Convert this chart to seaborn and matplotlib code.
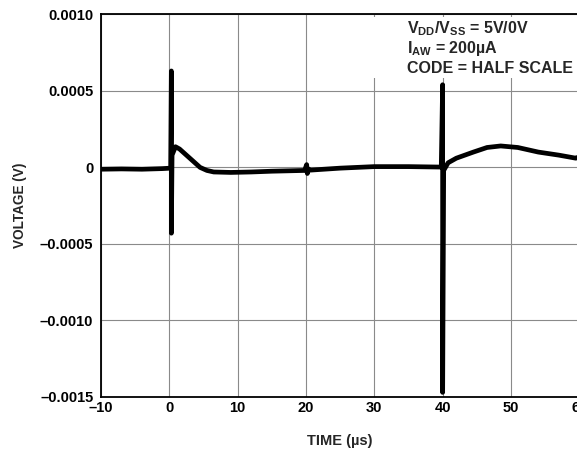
"""
Output voltage transient of the wiper (V vs. time in us), datasheet style.
Writes out.png
"""
import matplotlib
matplotlib.use("Agg")
import matplotlib.pyplot as plt
import pandas as pd
import seaborn as sns
from matplotlib.patches import Rectangle

# ---- data --------------------------------------------------------------
time_us = [
    -10.0, -7.0, -4.0, -1.0, 0.2,
    0.3, 0.3, 0.4, 0.9, 1.5, 2.5, 3.5, 4.5, 5.5, 6.5,
    9.0, 12.0, 15.0, 19.8, 20.1, 20.2, 20.35, 20.6,
    25.0, 30.0, 35.0, 39.8,
    40.0, 40.0, 40.15, 40.8, 42.0, 44.5, 46.5, 48.5,
    51.0, 54.0, 57.0, 59.5, 60.0,
]
voltage_v = [
    -0.000012, -0.000010, -0.000012, -0.000008, -0.000005,
    0.00063, -0.00043, 0.00008, 0.000135, 0.00012, 0.00008, 0.00004, 0.000000, -0.00002, -0.00003,
    -0.000033, -0.00003, -0.000025, -0.00002, 0.000018, -0.00004, -0.00001, -0.000018,
    -0.000005, 0.000005, 0.000005, 0.000002,
    0.00054, -0.00147, -0.00002, 0.00003, 0.00006, 0.0001, 0.00013, 0.00014,
    0.00013, 0.0001, 0.00008, 0.00006, 0.00007,
]

x_ticks = [-10, 0, 10, 20, 30, 40, 50, 60]
x_tick_labels = ["\u201310", "0", "10", "20", "30", "40", "50", "60"]
y_ticks = [-0.0015, -0.0010, -0.0005, 0.0, 0.0005, 0.0010]
y_tick_labels = ["\u20130.0015", "\u20130.0010", "\u20130.0005", "0", "0.0005", "0.0010"]

note_lines = [
    r"$V_{DD}/V_{SS}$ = 5V/0V",
    r"$I_{AW}$ = 200" + "\u00b5A",
    "CODE = HALF SCALE",
]

sns.set_theme(style="whitegrid")
plt.rcParams["font.family"] = ["Liberation Sans", "DejaVu Sans"]
plt.rcParams["font.weight"] = "bold"
plt.rcParams["mathtext.fontset"] = "custom"
plt.rcParams["mathtext.rm"] = "Liberation Sans:bold"
plt.rcParams["mathtext.it"] = "Liberation Sans:bold"
plt.rcParams["mathtext.bf"] = "Liberation Sans:bold"
plt.rcParams["mathtext.default"] = "rm"

df = pd.DataFrame({"t": time_us, "v": voltage_v})

fig = plt.figure(figsize=(5.77, 4.5), dpi=100)
ax = fig.add_axes([0.175, 0.1178, 0.829, 0.8504])

sns.lineplot(data=df, x="t", y="v", sort=False, estimator=None,
             color="black", lw=3.4, ax=ax, zorder=3)

ax.set_xlim(-10, 60)
ax.set_ylim(-0.0015, 0.0010)
ax.set_xticks(x_ticks)
ax.set_xticklabels(x_tick_labels)
ax.set_yticks(y_ticks)
ax.set_yticklabels(y_tick_labels)
ax.tick_params(axis="both", length=0, labelsize=10.5, colors="black")
ax.tick_params(axis="x", pad=3)
ax.tick_params(axis="y", pad=5.5)
for lab in ax.get_xticklabels() + ax.get_yticklabels():
    lab.set_fontweight("bold")

ax.grid(True, color="#8a8a8a", lw=0.8)
ax.set_axisbelow(True)
for side in ["left", "bottom", "top", "right"]:
    ax.spines[side].set_color("black")
    ax.spines[side].set_linewidth(1.3)

ax.set_xlabel("TIME (\u00b5s)", fontsize=10.5, fontweight="bold")
ax.set_ylabel("VOLTAGE (V)", fontsize=9.8, fontweight="bold")
ax.xaxis.set_label_coords(0.5, -0.115)
ax.yaxis.set_label_coords(-0.17, 0.5)
ax.xaxis.label.set_va("center")
ax.yaxis.label.set_va("center")

# white note box covering the gridlines in the top-right corner
ax.add_patch(Rectangle((0.5, 0.8336), 0.6, 0.159, transform=ax.transAxes,
                       facecolor="white", edgecolor="none", zorder=1))
for line, y in zip(note_lines, [0.9507, 0.8985, 0.8462]):
    ax.text(0.640, y, line, transform=ax.transAxes, fontsize=11.5,
            fontweight="bold", va="baseline", ha="left", zorder=4)

fig.savefig("out.png", dpi=100)
